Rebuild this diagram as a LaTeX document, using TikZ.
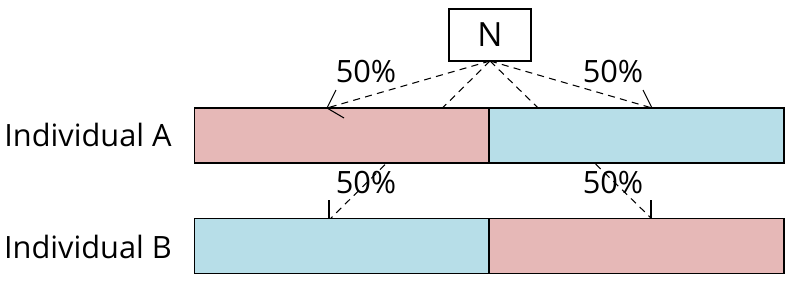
\documentclass[tikz,border=0pt]{standalone}
\usepackage{fontspec}
\setmainfont{Open Sans}
\usepackage{xcolor}
\usetikzlibrary{positioning,calc}
\definecolor{hapred}{RGB}{230,184,183}
\definecolor{hapblue}{RGB}{183,222,232}

\begin{document}
\begin{tikzpicture}[x=0.02cm,y=-0.02cm,font=\fontsize{17.5}{21}\selectfont,
  bar/.style={draw,line width=0.6pt,minimum width=5.9cm,minimum height=1.1cm,inner sep=0pt},
  lead/.style={line width=0.6pt,black},
  share/.style={line width=0.6pt,dash pattern=on 4pt off 3pt}]
\useasboundingbox (0,0) rectangle (793,281);
\node[draw,line width=0.6pt,minimum width=1.64cm,minimum height=1.04cm,
      font=\fontsize{19}{22}\selectfont] (N) at (490,35) {N};
\coordinate (Nb) at (490,61);
% end points of the dashed lines
\coordinate (tA1) at (327,108);
\coordinate (tA2) at (652,108);
\coordinate (tB1) at (330,219);
\coordinate (tB2) at (652,219);
\draw[share] (Nb) -- (tA1);
\draw[share] (Nb) -- (tA2);
\draw[share] (Nb) -- (tB1);
\draw[share] (Nb) -- (tB2);
% chromosomes
\node[bar,fill=hapred]  (A1) at (341.5,135.5) {};
\node[bar,fill=hapblue] (A2) at (636.5,135.5) {};
\node[bar,fill=hapblue] (B1) at (341.5,246) {};
\node[bar,fill=hapred]  (B2) at (636.5,246) {};
\node (lA) at (88,135) {Individual A};
\node (lB) at (88,247) {Individual B};
% percentages
\node (pA1) at (366,72) {50\%};
\node (pA2) at (613,72) {50\%};
\node (pB1) at (366,182) {50\%};
\node (pB2) at (613,182) {50\%};
\draw[lead] (336,90) -- (tA1) -- (344,118);
\draw[lead] (643,90) -- (tA2);
\draw[lead] (329,200) -- (329,219);
\draw[lead] (651,200) -- (651,219);
\end{tikzpicture}
\end{document}
